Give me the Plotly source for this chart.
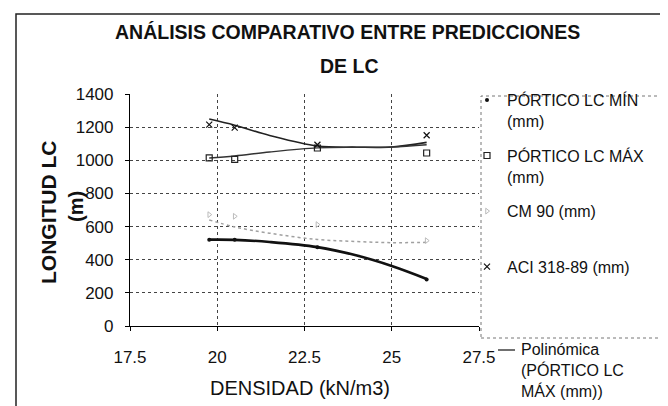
import plotly.graph_objects as go

# ---- data ----
densidad = [19.77, 20.5, 22.87, 26.0]
portico_min = [521, 521, 475, 280]
portico_max = [1014, 1006, 1074, 1044]
cm90 = [672, 662, 612, 515]
aci = [1215, 1197, 1094, 1151]

trend_x = [19.77, 20.5, 21.5, 22.87, 24.0, 25.0, 26.0]
trend_max = [1014, 1026, 1050, 1075, 1079, 1080, 1094]
trend_aci = [1249, 1212, 1150, 1086, 1079, 1080, 1108]
trend_min = [521, 520, 507, 476, 425, 362, 284]
trend_cm90 = [640, 598, 560, 522, 510, 503, 505]

x_ticks = [17.5, 20, 22.5, 25, 27.5]
y_ticks = [0, 200, 400, 600, 800, 1000, 1200, 1400]

FONT = "Liberation Sans, Arial, sans-serif"

# plot-area geometry in pixels
L, R, T, B = 122, 471, 86, 318
W, H = 668, 406


def px(x):
    return (x - L) / (R - L)


def py(y):
    return (B - y) / (B - T)


fig = go.Figure()

# trend lines (no legend entries inside the box)
fig.add_trace(go.Scatter(x=trend_x, y=trend_cm90, mode="lines", line=dict(color="#a0a0a0", width=1.5, dash="dot", shape="spline"), showlegend=False, hoverinfo="skip"))
fig.add_trace(go.Scatter(x=trend_x, y=trend_aci, mode="lines", line=dict(color="#222", width=1.6, shape="spline"), showlegend=False, hoverinfo="skip"))
fig.add_trace(go.Scatter(x=trend_x, y=trend_max, mode="lines", line=dict(color="#333", width=1.4, shape="spline"), showlegend=False, hoverinfo="skip"))
fig.add_trace(go.Scatter(x=trend_x, y=trend_min, mode="lines", line=dict(color="#111", width=2.6, shape="spline"), showlegend=False, hoverinfo="skip"))

# data series
fig.add_trace(go.Scatter(x=densidad, y=portico_min, mode="markers", name="PÓRTICO LC MÍN<br>(mm)", legendgroup="a",
                         marker=dict(symbol="circle", size=4, color="#111")))
fig.add_trace(go.Scatter(x=densidad, y=portico_max, mode="markers", name="PÓRTICO LC MÁX<br>(mm)", legendgroup="b",
                         marker=dict(symbol="square-open", size=6, color="#222", line=dict(width=1.2))))
fig.add_trace(go.Scatter(x=densidad, y=cm90, mode="markers", name="CM 90 (mm)<br>&nbsp;", legendgroup="c",
                         marker=dict(symbol="triangle-right-open", size=5, color="#bbbbbb", line=dict(width=1))))
fig.add_trace(go.Scatter(x=densidad, y=aci, mode="markers", name="ACI 318-89 (mm)<br>&nbsp;", legendgroup="d",
                         marker=dict(symbol="x-thin-open", size=6, color="#111", line=dict(width=1.2))))

axis_common = dict(
    showgrid=True, gridcolor="#444", griddash="dot", gridwidth=1,
    showline=True, linecolor="#000", linewidth=1.2,
    ticks="outside", ticklen=4, tickcolor="#000",
    tickfont=dict(family=FONT, size=17, color="#111"),
    zeroline=False, mirror=False,
)

fig.update_xaxes(range=[17.5, 27.5], tickvals=x_ticks, ticktext=[str(v) for v in x_ticks],
                 ticklabelstandoff=11, **axis_common)
fig.update_yaxes(range=[0, 1400], tickvals=y_ticks, ticklabelstandoff=8, **axis_common)

shapes = [
    # legend box (dotted)
    dict(type="rect", xref="paper", yref="paper", x0=px(473), x1=px(656), y0=py(330), y1=py(88),
         line=dict(color="#777", width=1, dash="dot"), fillcolor="rgba(0,0,0,0)", layer="above"),
    # outer chart border
    dict(type="rect", xref="paper", yref="paper", x0=px(8), x1=px(661), y0=py(405), y1=py(6),
         line=dict(color="#222", width=1.5), fillcolor="rgba(0,0,0,0)"),
    # heavier right edge of the scanned frame
    dict(type="line", xref="paper", yref="paper", x0=px(662), x1=px(662), y0=py(405), y1=py(6),
         line=dict(color="#111", width=2.5)),
    # trend-line legend sample (overflowing)
    dict(type="line", xref="paper", yref="paper", x0=px(490), x1=px(507), y0=py(342), y1=py(342),
         line=dict(color="#333", width=1.4)),
]

annotations = [
    dict(text="<b>ANÁLISIS COMPARATIVO ENTRE PREDICCIONES</b>", x=px(339), y=py(24), xref="paper", yref="paper",
         showarrow=False, font=dict(family=FONT, size=19.5, color="#111"), xanchor="center", yanchor="middle"),
    dict(text="<b>DE LC</b>", x=px(341), y=py(58), xref="paper", yref="paper",
         showarrow=False, font=dict(family=FONT, size=19.5, color="#111"), xanchor="center", yanchor="middle"),
    dict(text="<b>LONGITUD LC</b>", x=px(40), y=py(205), xref="paper", yref="paper", textangle=-90,
         showarrow=False, font=dict(family=FONT, size=21, color="#111"), xanchor="center", yanchor="middle"),
    dict(text="<b>(m)</b>", x=px(68), y=py(199), xref="paper", yref="paper", textangle=-90,
         showarrow=False, font=dict(family=FONT, size=20, color="#111"), xanchor="center", yanchor="middle"),
    dict(text="DENSIDAD (kN/m3)", x=px(292), y=py(380), xref="paper", yref="paper",
         showarrow=False, font=dict(family=FONT, size=20, color="#111"), xanchor="center", yanchor="middle"),
    dict(text="Polinómica<br>(PÓRTICO LC<br>MÁX (mm))", x=px(511), y=py(331), xref="paper", yref="paper",
         showarrow=False, align="left", font=dict(family=FONT, size=16, color="#111"), xanchor="left", yanchor="top"),
]

fig.update_layout(
    width=W, height=H,
    margin=dict(l=L, r=W - R, t=T, b=H - B),
    paper_bgcolor="white", plot_bgcolor="white",
    showlegend=True,
    legend=dict(x=px(459), y=py(186), xanchor="left", yanchor="middle", bgcolor="rgba(0,0,0,0)",
                borderwidth=0, font=dict(family=FONT, size=16, color="#111"),
                tracegroupgap=11, traceorder="grouped", valign="top", itemwidth=30),
    shapes=shapes, annotations=annotations,
)

fig.write_html("out.html")
